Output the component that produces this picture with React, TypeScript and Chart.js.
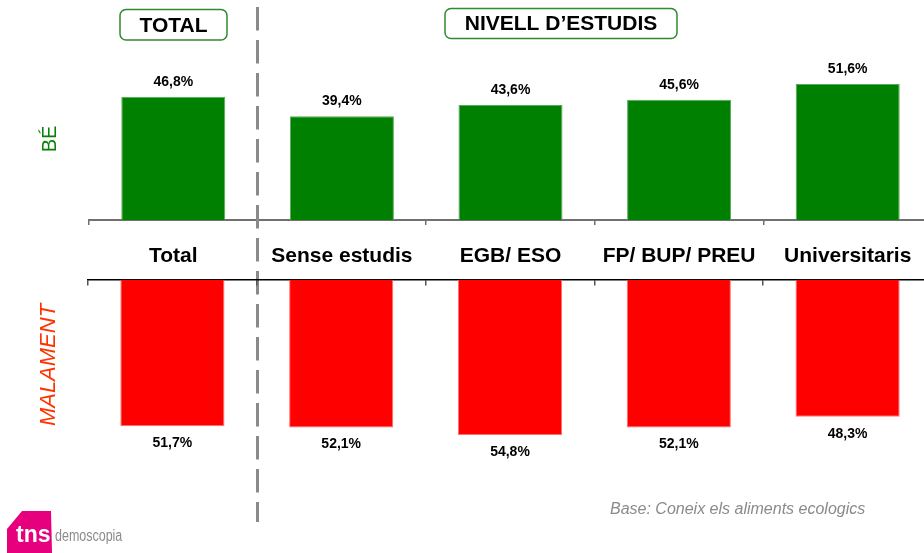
import React, { useEffect, useRef } from "react";
import { Chart, registerables } from "chart.js";
Chart.register(...registerables);

const categories = ["Total", "Sense estudis", "EGB/ ESO", "FP/ BUP/ PREU", "Universitaris"];
const beValues = [46.8, 39.4, 43.6, 45.6, 51.6];
const malamentValues = [51.7, 52.1, 54.8, 52.1, 48.3];
const headerLabels = ["TOTAL", "NIVELL D\u2019ESTUDIS"];
const sideLabels = ["B\u00C9", "MALAMENT"];
const footnote = "Base: Coneix els aliments ecologics";
const logoMain = "tns";
const logoSub = "demoscopia";

const W = 940;
const H = 553;
const FONT = "'Liberation Sans', Arial, Helvetica, sans-serif";
const fmt = (v: number) => v.toFixed(1).replace(".", ",") + "%";

const valueLabels = (dir: number, offset: number) => ({
  id: "valueLabels" + dir,
  afterDatasetsDraw(chart: any) {
    const ctx = chart.ctx;
    const meta = chart.getDatasetMeta(0);
    const data = chart.data.datasets[0].data as number[];
    ctx.save();
    ctx.font = `bold 14px ${FONT}`;
    ctx.fillStyle = "#000";
    ctx.textAlign = "center";
    ctx.textBaseline = "middle";
    meta.data.forEach((el: any, i: number) => {
      ctx.fillText(fmt(data[i]), el.x, el.y + dir * offset);
    });
    ctx.restore();
  },
});

const overlay = {
  id: "overlay",
  afterDraw(chart: any) {
    const ctx: CanvasRenderingContext2D = chart.ctx;
    ctx.save();
    // header boxes
    const boxes = [
      { x: 120, y: 9.5, w: 107, h: 30.5 },
      { x: 445, y: 8.5, w: 232, h: 30 },
    ];
    boxes.forEach((b, i) => {
      ctx.beginPath();
      (ctx as any).roundRect(b.x, b.y, b.w, b.h, 6);
      ctx.fillStyle = "#fff";
      ctx.fill();
      ctx.lineWidth = 1.5;
      ctx.strokeStyle = "#2e8b2e";
      ctx.stroke();
      ctx.fillStyle = "#000";
      ctx.font = `bold 21px ${FONT}`;
      ctx.textAlign = "center";
      ctx.textBaseline = "middle";
      ctx.fillText(headerLabels[i], b.x + b.w / 2, b.y + b.h / 2 + 1);
    });
    // dashed separator
    ctx.beginPath();
    ctx.setLineDash([23.5, 9.5]);
    ctx.lineWidth = 3;
    ctx.strokeStyle = "#8a8a8a";
    ctx.moveTo(257.5, 7);
    ctx.lineTo(257.5, 522);
    ctx.stroke();
    ctx.setLineDash([]);
    // side labels
    ctx.save();
    ctx.translate(50, 139);
    ctx.rotate(-Math.PI / 2);
    ctx.font = `20px ${FONT}`;
    ctx.fillStyle = "#0a800a";
    ctx.textAlign = "center";
    ctx.textBaseline = "middle";
    ctx.fillText(sideLabels[0], 0, 0);
    ctx.restore();
    ctx.save();
    ctx.translate(49, 365);
    ctx.rotate(-Math.PI / 2);
    ctx.font = `italic 22px ${FONT}`;
    ctx.fillStyle = "#ff3300";
    ctx.textAlign = "center";
    ctx.textBaseline = "middle";
    ctx.fillText(sideLabels[1], 0, 0);
    ctx.restore();
    // footnote
    ctx.font = `italic 16px ${FONT}`;
    ctx.fillStyle = "#8a8a8a";
    ctx.textAlign = "left";
    ctx.textBaseline = "middle";
    ctx.fillText(footnote, 610, 510);
    // logo
    ctx.beginPath();
    ctx.moveTo(7, 529);
    ctx.lineTo(22, 511);
    ctx.lineTo(51, 511);
    ctx.lineTo(52, 553);
    ctx.lineTo(7, 553);
    ctx.closePath();
    ctx.fillStyle = "#e6007e";
    ctx.fill();
    ctx.font = `bold 23px ${FONT}`;
    ctx.fillStyle = "#fff";
    ctx.textAlign = "left";
    ctx.textBaseline = "alphabetic";
    ctx.fillText(logoMain, 16, 542);
    ctx.save();
    ctx.translate(55, 541);
    ctx.scale(0.78, 1);
    ctx.font = `16px ${FONT}`;
    ctx.fillStyle = "#8c8c8c";
    ctx.fillText(logoSub, 0, 0);
    ctx.restore();
    ctx.restore();
  },
};

export default function App() {
  const topRef = useRef<HTMLCanvasElement>(null);
  const botRef = useRef<HTMLCanvasElement>(null);

  useEffect(() => {
    const top = new Chart(topRef.current!, {
      type: "bar",
      data: {
        labels: categories,
        datasets: [
          {
            data: beValues,
            backgroundColor: "#008000",
            borderColor: "#5aa85a",
            borderWidth: 1,
            categoryPercentage: 0.617,
            barPercentage: 1,
          },
        ],
      },
      options: {
        animation: false,
        responsive: false,
        devicePixelRatio: 1,
        layout: { padding: { left: 89, right: 8, top: 61.9, bottom: 273 } },
        plugins: { legend: { display: false }, tooltip: { enabled: false } },
        scales: {
          x: {
            position: "bottom",
            grid: { drawOnChartArea: false, drawTicks: true, tickLength: 5, color: "#707070", lineWidth: 1.5 },
            border: { display: true, color: "#707070", width: 2 },
            ticks: {
              color: "#000",
              font: { family: FONT, size: 21, weight: "bold" },
              padding: 19,
              maxRotation: 0,
              autoSkip: false,
            },
            afterFit: (s: any) => {
              s.height = 60;
            },
          },
          y: { display: false, min: 0, max: 60 },
        },
      } as any,
      plugins: [valueLabels(-1, 15), overlay],
    });

    const bot = new Chart(botRef.current!, {
      type: "bar",
      data: {
        labels: categories,
        datasets: [
          {
            data: malamentValues,
            backgroundColor: "#ff0000",
            borderColor: "#ff7070",
            borderWidth: 1,
            categoryPercentage: 0.617,
            barPercentage: 1,
          },
        ],
      },
      options: {
        animation: false,
        responsive: false,
        devicePixelRatio: 1,
        layout: { padding: { left: 88, right: 8, top: 280, bottom: 103.2 } },
        plugins: { legend: { display: false }, tooltip: { enabled: false } },
        scales: {
          x: {
            axis: "x",
            position: { y: 0 },
            grid: { drawOnChartArea: false, drawTicks: true, tickLength: 5, color: "#555", lineWidth: 1.5 },
            border: { display: true, color: "#000", width: 1.5 },
            ticks: { display: false },
          },
          y: { display: false, reverse: true, min: 0, max: 60 },
        },
      } as any,
      plugins: [valueLabels(1, 17)],
    });

    return () => {
      top.destroy();
      bot.destroy();
    };
  }, []);

  return (
    <div
      style={{
        position: "fixed",
        left: 0,
        top: 0,
        width: 924,
        height: 553,
        overflow: "hidden",
        background: "#fff",
      }}
    >
      <canvas ref={topRef} width={W} height={H} style={{ position: "absolute", left: 0, top: 0 }} />
      <canvas ref={botRef} width={W} height={H} style={{ position: "absolute", left: 0, top: 0 }} />
    </div>
  );
}
